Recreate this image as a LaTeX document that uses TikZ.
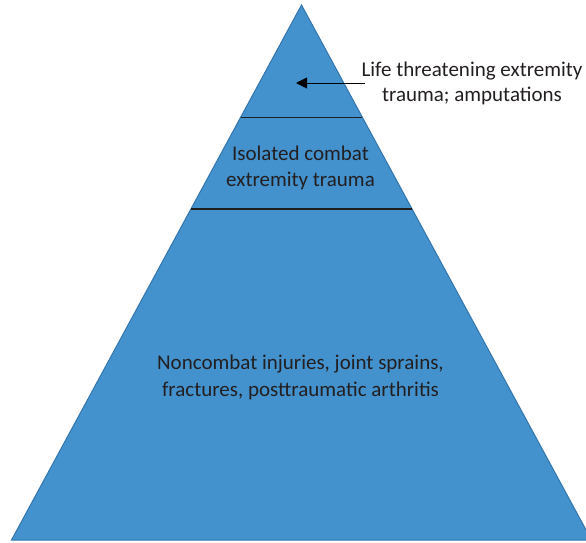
\documentclass[tikz,border=0pt]{standalone}
\usepackage{fontspec}
\setmainfont{Carlito}
\usetikzlibrary{calc,arrows.meta}
\definecolor{pyrfill}{RGB}{67,146,205}
\definecolor{pyredge}{RGB}{52,118,172}
\definecolor{inktext}{RGB}{35,31,32}
\tikzset{
  label text/.style={text=inktext, align=center, inner sep=0pt,
    font=\fontsize{21}{25.5}\selectfont},
  tier line/.style={draw=black!88, line width=1.4pt},
  pointer/.style={draw=black, line width=1pt, -{Triangle[length=11pt,width=11pt]}}
}
\begin{document}
\begin{tikzpicture}[x=1pt,y=-1pt]
  \useasboundingbox (0,0) rectangle (586,543);
  \clip (0,0) rectangle (586,543);
  % pyramid corners
  \coordinate (apex) at (301.5,5);
  \coordinate (bl) at (11.5,540);
  \coordinate (br) at (591.5,540);
  \filldraw[fill=pyrfill, draw=pyredge, line width=1pt] (apex) -- (bl) -- (br) -- cycle;
  % tier boundaries
  \coordinate (t1l) at ($(apex)!0.2103!(bl)$);
  \coordinate (t1r) at ($(apex)!0.2103!(br)$);
  \coordinate (t2l) at ($(apex)!0.3813!(bl)$);
  \coordinate (t2r) at ($(apex)!0.3813!(br)$);
  \draw[tier line] (t1l) -- (t1r);
  \draw[tier line] (t2l) -- (t2r);
  % labels
  \node[label text] (top) at (472,83.5) {Life threatening extremity\\trauma; amputations};
  \node[label text] (mid) at (300.5,168) {Isolated combat\\extremity trauma};
  \node[label text, font=\fontsize{21}{27}\selectfont] (base) at (300.5,377) {Noncombat injuries, joint sprains,\\fractures, posttraumatic arthritis};
  % pointer into the top tier
  \coordinate (ptrstart) at (365,83);
  \coordinate (ptrtip) at (296,83);
  \draw[pointer] (ptrstart) -- (ptrtip);
\end{tikzpicture}
\end{document}
